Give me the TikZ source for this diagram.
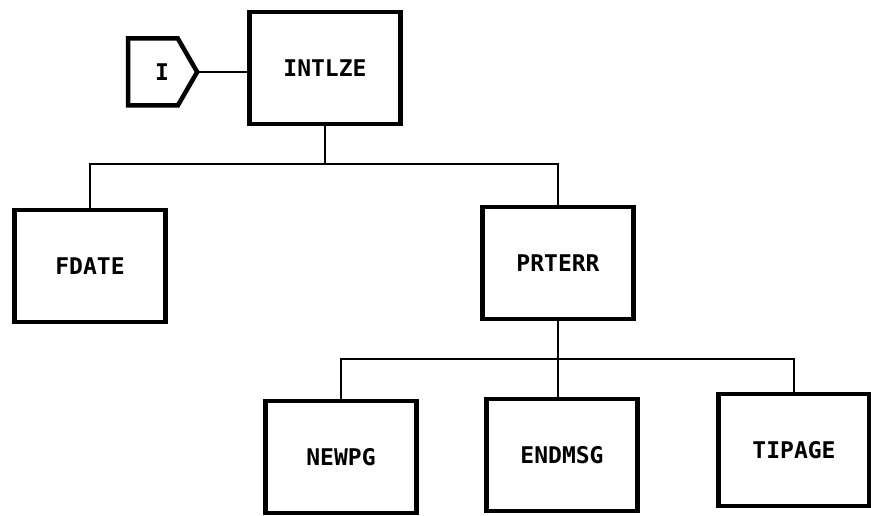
\documentclass[tikz,border=0pt]{standalone}
\usepackage{fontspec}
\setmonofont{DejaVu Sans Mono}
\usepackage{tikz}
\usetikzlibrary{shapes.symbols}

\begin{document}
\begin{tikzpicture}[x=1pt,y=-1pt,
  modbox/.style={draw,line width=4.5pt,minimum width=151pt,minimum height=112pt,outer sep=0pt,
    font=\fontsize{23}{23}\ttfamily\bfseries},
  link/.style={line width=2.2pt}]
\useasboundingbox (0,0) rectangle (871,516);
\node[draw,line width=4.5pt,shape=signal,signal to=east,signal pointer angle=120,
  minimum width=69pt,minimum height=67pt,outer sep=0pt,
  font=\fontsize{23}{23}\ttfamily\bfseries](entry) at (153,72){\hspace*{18pt}I};
\node[modbox](intlze) at (325,68){INTLZE};
\node[modbox](fdate) at (90,266){FDATE};
\node[modbox](prterr) at (558,263){PRTERR};
\node[modbox](newpg) at (341,457){NEWPG};
\node[modbox](endmsg) at (562,455){ENDMSG};
\node[modbox](tipage) at (794,450){TIPAGE};
\coordinate (top bar) at (322,164);
\coordinate (low bar) at (558,359);
\draw[link] (entry.east) -- (entry.east -| intlze.west);
\draw[link] (intlze.south) -- (intlze.south |- top bar);
\draw[link] (fdate.north) |- (top bar) -| (prterr.north);
\draw[link] (prterr.south) -- (prterr.south |- endmsg.north);
\draw[link] (newpg.north) |- (low bar) -| (tipage.north);
\end{tikzpicture}
\end{document}
